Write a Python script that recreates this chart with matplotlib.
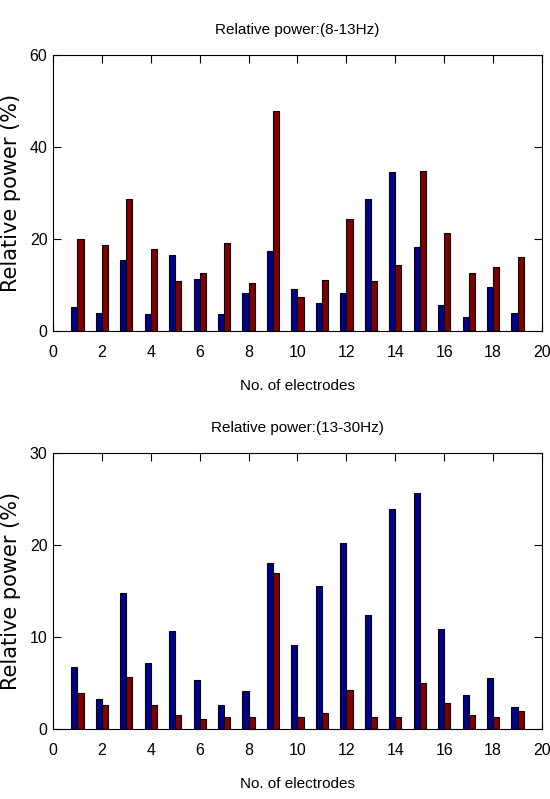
import numpy as np
import matplotlib
matplotlib.use("Agg")
import matplotlib.pyplot as plt

electrodes = np.arange(1, 20)

alpha_blue = [5.3, 4.0, 15.4, 3.6, 16.5, 11.4, 3.6, 8.3, 17.5, 9.2,
              6.2, 8.3, 28.8, 34.5, 18.3, 5.7, 3.1, 9.6, 4.0]
alpha_red = [20.0, 18.8, 28.8, 17.9, 10.9, 12.7, 19.2, 10.4, 47.9, 7.5,
             11.0, 24.4, 10.9, 14.4, 34.9, 21.4, 12.7, 13.9, 16.2]

beta_blue = [6.7, 3.3, 14.8, 7.2, 10.7, 5.3, 2.6, 4.1, 18.1, 9.1,
             15.5, 20.2, 12.4, 23.9, 25.7, 10.9, 3.7, 5.5, 2.4]
beta_red = [3.9, 2.6, 5.7, 2.6, 1.5, 1.1, 1.3, 1.3, 17.0, 1.3,
            1.7, 4.2, 1.3, 1.3, 5.0, 2.8, 1.5, 1.3, 2.0]

plt.rcParams['font.family'] = ['Liberation Sans', 'DejaVu Sans']

fig = plt.figure(figsize=(5.5, 7.99), dpi=100)

def panel(rect, blue, red, ymax, yticks, title):
    ax = fig.add_axes(rect)
    w = 0.25
    ax.bar(electrodes - w/2, blue, width=w, color='#00008b', edgecolor='black', linewidth=0.8)
    ax.bar(electrodes + w/2, red, width=w, color='#800000', edgecolor='black', linewidth=0.8)
    ax.set_xlim(0, 20)
    ax.set_ylim(0, ymax)
    ax.set_xticks(range(0, 21, 2))
    ax.set_yticks(yticks)
    ax.tick_params(direction='in', top=True, right=True, length=5.5, labelsize=11.5)
    ax.tick_params(axis='x', pad=10)
    ax.tick_params(axis='y', pad=4)
    ax.set_xlabel('No. of electrodes', fontsize=11, labelpad=14)
    ax.set_ylabel('Relative power (%)', fontsize=15, family='DejaVu Sans', labelpad=6)
    ax.set_title(title, fontsize=11, pad=15)
    return ax

panel([0.0964, 0.5857, 0.889, 0.3454], alpha_blue, alpha_red, 60, [0, 20, 40, 60],
      'Relative power:(8-13Hz)')
panel([0.0964, 0.0876, 0.889, 0.3454], beta_blue, beta_red, 30, [0, 10, 20, 30],
      'Relative power:(13-30Hz)')

plt.savefig('out.png', dpi=100)
